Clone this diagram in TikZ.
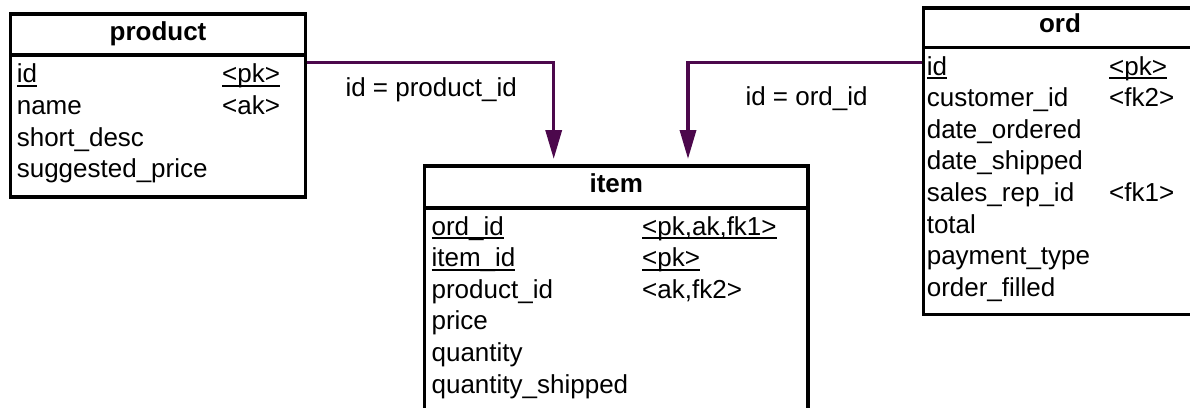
\documentclass[tikz,border=0pt]{standalone}
\usepackage{fontspec}
\setmainfont{Liberation Sans}
\usetikzlibrary{arrows.meta}
\definecolor{relcol}{RGB}{76,8,76}
% key columns: text with a heavy underline
\newcommand\keyfield[1]{\setbox0\hbox{#1}\rlap{\rule[-4.4pt]{\wd0}{2.2pt}}\box0}
\pgfdeclarelayer{bg}
\pgfsetlayers{bg,main}

\begin{document}
\begin{tikzpicture}[x=1pt,y=-1pt,
  tablebox/.style={draw=black, line width=3.5pt, fill=white, inner sep=0pt, outer sep=0pt, anchor=north west},
  tableline/.style={draw=black, line width=3.5pt},
  fld/.style={anchor=base west, inner sep=0pt, font=\fontsize{26}{31}\selectfont},
  ttl/.style={anchor=base, inner sep=0pt, font=\fontsize{26}{31}\selectfont\bfseries},
  rel/.style={draw=relcol, line width=3.5pt, -{Triangle[length=29pt,width=16pt]}},
  lbl/.style={anchor=base west, inner sep=0pt, font=\fontsize{26}{31}\selectfont}]
\useasboundingbox (0,0) rectangle (1190,407);
\clip (0,0) rectangle (1190,407);

% ---- tables ----
\node[tablebox, minimum width=295pt, minimum height=183pt] (product) at (10.5,14) {};
\draw[tableline] (product.west |- 0,55) -- (product.east |- 0,55);
\node[tablebox, minimum width=383.5pt, minimum height=280pt] (item) at (424.5,166) {};
\draw[tableline] (item.west |- 0,208) -- (item.east |- 0,208);
\node[tablebox, minimum width=272.5pt, minimum height=306.5pt] (ord) at (923.5,8) {};
\draw[tableline] (ord.west |- 0,47.5) -- (ord.east |- 0,47.5);

% ---- product ----
\node[ttl] (product-t) at (158,40) {product};
\node[fld] (product-1) at (16.6,82.7) {\keyfield{id}};
\node[fld] (product-1k) at (222,82.7) {\keyfield{<pk>}};
\node[fld] (product-2) at (16.6,114.3) {name};
\node[fld] (product-2k) at (222,114.3) {<ak>};
\node[fld] (product-3) at (16.6,146) {short\_desc};
\node[fld] (product-4) at (16.6,177.7) {suggested\_price};

% ---- item ----
\node[ttl] (item-t) at (616.25,192) {item};
\node[fld] (item-1) at (431.4,235) {\keyfield{ord\_id}};
\node[fld] (item-1k) at (642,235) {\keyfield{<pk,ak,fk1>}};
\node[fld] (item-2) at (431.4,266.6) {\keyfield{item\_id}};
\node[fld] (item-2k) at (642,266.6) {\keyfield{<pk>}};
\node[fld] (item-3) at (431.4,298.2) {product\_id};
\node[fld] (item-3k) at (642,298.2) {<ak,fk2>};
\node[fld] (item-4) at (431.4,329.8) {price};
\node[fld] (item-5) at (431.4,361.4) {quantity};
\node[fld] (item-6) at (431.4,393) {quantity\_shipped};

% ---- ord ----
\node[ttl] (ord-t) at (1060,32) {ord};
\node[fld] (ord-1) at (926.6,75) {\keyfield{id}};
\node[fld] (ord-1k) at (1109,75) {\keyfield{<pk>}};
\node[fld] (ord-2) at (926.6,106.6) {customer\_id};
\node[fld] (ord-2k) at (1109,106.6) {<fk2>};
\node[fld] (ord-3) at (926.6,138.2) {date\_ordered};
\node[fld] (ord-4) at (926.6,169.8) {date\_shipped};
\node[fld] (ord-5) at (926.6,201.4) {sales\_rep\_id};
\node[fld] (ord-5k) at (1109,201.4) {<fk1>};
\node[fld] (ord-6) at (926.6,233) {total};
\node[fld] (ord-7) at (926.6,264.6) {payment\_type};
\node[fld] (ord-8) at (926.6,296.2) {order\_filled};

% ---- references ----
\begin{pgfonlayer}{bg}
\draw[rel] (product.east |- 0,62.5) -| ([yshift=7pt]item.north west -| 553.7,0);
\draw[rel] (ord.west |- 0,62.5) -| ([yshift=7pt]item.north west -| 688,0);
\end{pgfonlayer}
\node[lbl] (rel-product) at (345.3,96.7) {id = product\_id};
\node[lbl] (rel-ord) at (745.3,105) {id = ord\_id};
\end{tikzpicture}
\end{document}
